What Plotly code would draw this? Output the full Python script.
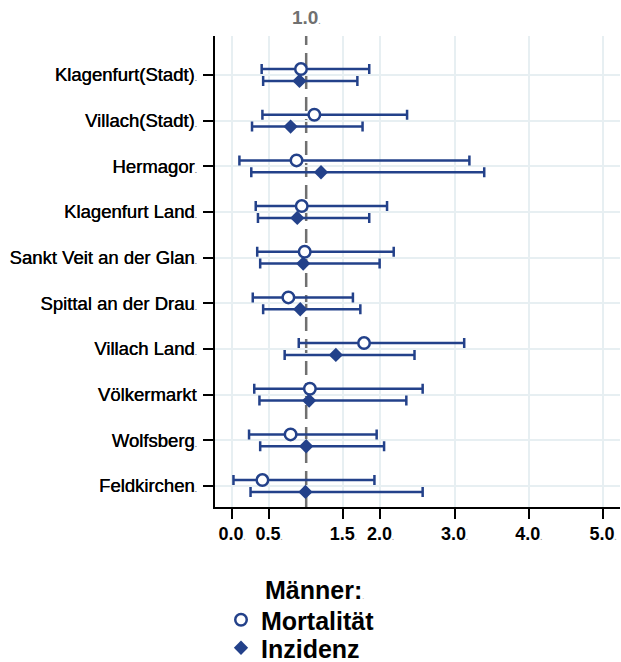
import plotly.graph_objects as go

# Districts, top to bottom
districts = [
    "Klagenfurt(Stadt)", "Villach(Stadt)", "Hermagor", "Klagenfurt Land",
    "Sankt Veit an der Glan", "Spittal an der Drau", "Villach Land",
    "Völkermarkt", "Wolfsberg", "Feldkirchen",
]
trailing_dot = [True, True, True, True, True, True, True, False, True, True]

# Mortalität: point estimate with lower / upper confidence limits
mort_est = [0.93, 1.11, 0.87, 0.94, 0.98, 0.76, 1.78, 1.05, 0.79, 0.41]
mort_lo = [0.40, 0.41, 0.10, 0.32, 0.34, 0.28, 0.90, 0.30, 0.23, 0.02]
mort_hi = [1.85, 2.36, 3.20, 2.09, 2.18, 1.63, 3.13, 2.57, 1.95, 1.92]

# Inzidenz: point estimate with lower / upper confidence limits
inz_est = [0.91, 0.79, 1.20, 0.88, 0.96, 0.92, 1.40, 1.04, 1.00, 0.99]
inz_lo = [0.42, 0.27, 0.26, 0.35, 0.38, 0.42, 0.71, 0.37, 0.38, 0.25]
inz_hi = [1.69, 1.76, 3.40, 1.85, 1.99, 1.73, 2.46, 2.35, 2.05, 2.57]

x_ticks = [0.0, 0.5, 1.5, 2.0, 3.0, 4.0, 5.0]
ref_value = 1.0

NAVY = "#23418a"
GRID = "#e7eff2"
FONT = "Arial, Liberation Sans, sans-serif"
DOT = "<span style='font-size:7px;color:#999999'>.</span>"

# plot-area geometry in pixels (used for placing the legend pieces)
W, H = 621, 662
ML, MR, MT, MB = 215, 1, 36, 155
PW, PH = W - ML - MR, H - MT - MB


def px_x(px):
    return (px - ML) / PW


def px_y(py):
    return (H - MB - py) / PH


pos = list(range(len(districts)))
off = 0.13

fig = go.Figure()

fig.add_trace(go.Scatter(
    x=mort_est,
    y=[p - off for p in pos],
    mode="markers",
    name="Mortalität",
    legend="legend",
    marker=dict(symbol="circle", size=11.5, color="white",
                line=dict(color=NAVY, width=2.5)),
    error_x=dict(type="data", symmetric=False,
                 array=[h - e for h, e in zip(mort_hi, mort_est)],
                 arrayminus=[e - l for e, l in zip(mort_est, mort_lo)],
                 color=NAVY, thickness=2.5, width=5),
))

fig.add_trace(go.Scatter(
    x=inz_est,
    y=[p + off for p in pos],
    mode="markers",
    name="Inzidenz",
    legend="legend2",
    marker=dict(symbol="diamond", size=11, color=NAVY,
                line=dict(color=NAVY, width=0)),
    error_x=dict(type="data", symmetric=False,
                 array=[h - e for h, e in zip(inz_hi, inz_est)],
                 arrayminus=[e - l for e, l in zip(inz_est, inz_lo)],
                 color=NAVY, thickness=2.5, width=5),
))

# Reference line at 1.0
fig.add_shape(type="line", xref="x", yref="paper",
              x0=ref_value, x1=ref_value, y0=0, y1=1,
              line=dict(color="#707070", width=2.5, dash="14px,8px"),
              layer="below")
fig.add_annotation(x=ref_value, xref="x", y=1, yref="paper", yshift=19,
                   text=f"{ref_value:.1f}" + DOT, showarrow=False,
                   font=dict(family=FONT, size=19, color="#707070", weight="bold"),
                   xanchor="center", yanchor="middle")

# Legend heading
fig.add_annotation(x=px_x(263), xref="paper", y=px_y(590), yref="paper",
                   text="<b>Männer:</b>" + DOT, showarrow=False, xanchor="left",
                   yanchor="middle", font=dict(family=FONT, size=25, color="black"))

legend_font = dict(family=FONT, size=25, color="black", weight="bold")
legend_common = dict(xanchor="left", yanchor="middle", font=legend_font,
                     bgcolor="rgba(0,0,0,0)", borderwidth=0, itemsizing="trace")

fig.update_layout(
    width=W, height=H,
    margin=dict(l=ML, r=MR, t=MT, b=MB, autoexpand=False),
    plot_bgcolor="white", paper_bgcolor="white",
    font=dict(family=FONT, color="black"),
    showlegend=True,
    legend=dict(x=px_x(221), y=px_y(620), **legend_common),
    legend2=dict(x=px_x(221), y=px_y(648), **legend_common),
    xaxis=dict(
        range=[-0.229, 5.23],
        tickvals=x_ticks,
        ticktext=[f"{v:.1f}" + DOT for v in x_ticks],
        tickfont=dict(family=FONT, size=18, color="black", weight="bold"),
        ticks="outside", ticklen=10, tickwidth=1.5, tickcolor="black",
        showline=True, linecolor="black", linewidth=1.5,
        showgrid=True, gridcolor=GRID, gridwidth=2,
        zeroline=False, fixedrange=True,
    ),
    yaxis=dict(
        range=[9.46, -0.854],
        tickvals=pos,
        ticktext=[d + (DOT if t else "") for d, t in zip(districts, trailing_dot)],
        tickfont=dict(family=FONT, size=18.5, color="black",
                      shadow="0.4px 0px 0px black"),
        ticks="outside", ticklen=10, tickwidth=1.5, tickcolor="black",
        ticklabelstandoff=3,
        showline=True, linecolor="black", linewidth=1.5,
        showgrid=True, gridcolor=GRID, gridwidth=2,
        zeroline=False, fixedrange=True,
    ),
)

fig.write_html("out.html")
